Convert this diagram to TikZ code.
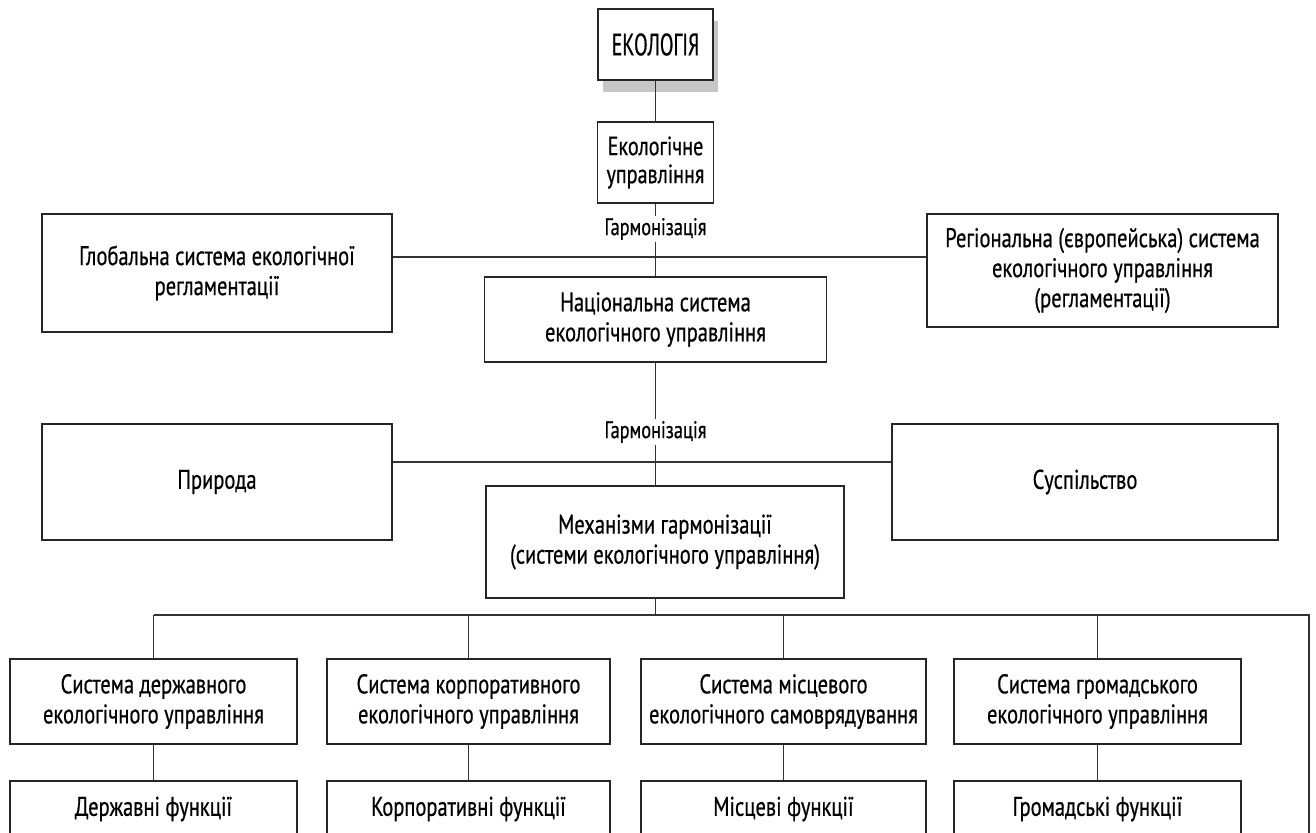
\documentclass[tikz,border=0pt]{standalone}
\usepackage{fontspec}
\setmainfont[FakeStretch=0.76,FakeBold=0.6]{PT Sans}
\newfontfamily\titlefont[FakeStretch=0.64,FakeBold=0.6]{PT Sans}
\usetikzlibrary{shadows}
\begin{document}
\begin{tikzpicture}[x=1pt,y=-1pt,
  box/.style={draw=black!85, line width=1.7pt, fill=white, inner sep=0pt, align=center,
              font=\fontsize{27}{30}\selectfont},
  conn/.style={draw=black!80, line width=1.1pt},
  lab/.style={fill=white, inner sep=1.5pt, font=\fontsize{24}{27}\selectfont}]
\useasboundingbox (0,0) rectangle (1316,832);
\clip (0,0) rectangle (1316,832);
\fill[white] (0,0) rectangle (1316,832);

% top
\node[box, minimum width=115, minimum height=71, font=\titlefont\fontsize{31}{34}\selectfont,
      drop shadow={shadow xshift=5pt, shadow yshift=-12pt, fill=gray!45, draw=none, opacity=1}]
      (ekol) at (655.5,44.5) {ЕКОЛОГІЯ};
\node[box, minimum width=116, minimum height=81, font=\fontsize{26.5}{28}\selectfont]
      (ekupr) at (655.5,162.5) {Екологічне\\управління};

\node[box, minimum width=350, minimum height=118] (global) at (217,273)
      {Глобальна система екологічної\\регламентації};
\node[box, minimum width=351, minimum height=113] (region) at (1102.5,270.5)
      {Регіональна (європейська) система\\екологічного управління\\(регламентації)};
\node[box, minimum width=342, minimum height=85] (nat) at (655.5,319.5)
      {Національна система\\екологічного управління};

\node[box, minimum width=350, minimum height=116] (priroda) at (217,482) {Природа};
\node[box, minimum width=386, minimum height=116] (susp) at (1085,482) {Суспільство};
\node[box, minimum width=358, minimum height=112] (mech) at (665,542)
      {Механізми гармонізації\\(системи екологічного управління)};

% bottom rows
\node[box, minimum width=287, minimum height=85] (s1) at (153.5,701.5)
      {Система державного\\екологічного управління};
\node[box, minimum width=283, minimum height=85] (s2) at (468.5,701.5)
      {Система корпоративного\\екологічного управління};
\node[box, minimum width=285, minimum height=85] (s3) at (783.5,701.5)
      {Система місцевого\\екологічного самоврядування};
\node[box, minimum width=287, minimum height=85] (s4) at (1097.5,701.5)
      {Система громадського\\екологічного управління};

\node[box, minimum width=287, minimum height=56] (f1) at (153.5,809) {Державні функції};
\node[box, minimum width=283, minimum height=56] (f2) at (468.5,809) {Корпоративні функції};
\node[box, minimum width=285, minimum height=56] (f3) at (783.5,809) {Місцеві функції};
\node[box, minimum width=287, minimum height=56] (f4) at (1097.5,809) {Громадські функції};

% connectors
\draw[conn] (ekol.south) -- (ekupr.north);
\node[lab] (h1) at (655.5,229) {Гармонізація};
\draw[conn] (ekupr.south) -- (h1.north);
\draw[conn] (h1.south) -- (nat.north);
\coordinate (j1) at (655.5,257);
\draw[conn] (global.east |- j1) -- (region.west |- j1);

\node[lab] (h2) at (655.5,432) {Гармонізація};
\draw[conn] (nat.south) -- (h2.north);
\draw[conn] (h2.south) -- (h2.south |- mech.north);
\coordinate (j2) at (655.5,462);
\draw[conn] (priroda.east |- j2) -- (susp.west |- j2);

\coordinate (bus) at (655.5,615);
\coordinate (busend) at (1309,615);
\coordinate (tail) at (1309,845);
\draw[conn] (mech.south -| bus) -- (bus);
\draw[conn] (s1.north |- bus) -- (busend) -- (tail);
\foreach \i in {1,2,3,4}{
  \draw[conn] (s\i.north |- bus) -- (s\i.north);
  \draw[conn] (s\i.south) -- (f\i.north);
}
\end{tikzpicture}
\end{document}
